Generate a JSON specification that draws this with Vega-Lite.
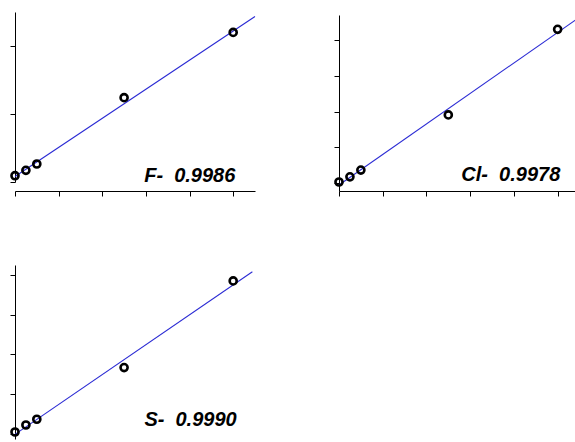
{
  "$schema": "https://vega.github.io/schema/vega-lite/v6.json",
  "background": "white",
  "padding": {"left": 6, "top": 12, "right": 0, "bottom": 0},
  "datasets": {
    "points": [
      {"ion": "F-", "x": 0, "y": 0.185},
      {"ion": "F-", "x": 0.25, "y": 0.344},
      {"ion": "F-", "x": 0.5, "y": 0.53},
      {"ion": "F-", "x": 2.5, "y": 2.48},
      {"ion": "F-", "x": 5, "y": 4.40},
      {"ion": "Cl-", "x": 0, "y": 0.036},
      {"ion": "Cl-", "x": 0.25, "y": 0.18},
      {"ion": "Cl-", "x": 0.5, "y": 0.37},
      {"ion": "Cl-", "x": 2.5, "y": 1.91},
      {"ion": "Cl-", "x": 5, "y": 4.30},
      {"ion": "S-", "x": 0, "y": 0.05},
      {"ion": "S-", "x": 0.25, "y": 0.226},
      {"ion": "S-", "x": 0.5, "y": 0.37},
      {"ion": "S-", "x": 2.5, "y": 1.67},
      {"ion": "S-", "x": 5, "y": 3.85}
    ],
    "fits": [
      {"ion": "F-", "x": 0, "y": 0.16},
      {"ion": "F-", "x": 5.5, "y": 4.87},
      {"ion": "Cl-", "x": 0, "y": -0.047},
      {"ion": "Cl-", "x": 5.42, "y": 4.57},
      {"ion": "S-", "x": 0, "y": -0.01},
      {"ion": "S-", "x": 5.44, "y": 4.08}
    ],
    "labels": [
      {"ion": "F-", "label": "F-\u00a0\u00a00.9986"},
      {"ion": "Cl-", "label": "Cl-\u00a0\u00a00.9978"},
      {"ion": "S-", "label": "S-\u00a0\u00a00.9990"}
    ]
  },
  "spacing": 68,
  "vconcat": [
    {
      "spacing": 72,
      "hconcat": [
        {
          "width": 240,
          "height": 179,
          "layer": [
            {
              "data": {"name": "fits"},
              "transform": [{"filter": "datum.ion === 'F-'"}],
              "mark": {"type": "line", "color": "#2b2bd4", "strokeWidth": 1.1},
              "encoding": {
                "x": {"field": "x", "type": "quantitative", "scale": {"domain": [0, 5.5], "nice": false, "zero": false}, "axis": {"values": [0, 1, 2, 3, 4, 5]}},
                "y": {"field": "y", "type": "quantitative", "scale": {"domain": [0, 5], "range": [170, 0], "nice": false, "zero": false}, "axis": {"values": [0, 1, 2, 3, 4, 5]}}
              }
            },
            {
              "data": {"name": "points"},
              "transform": [{"filter": "datum.ion === 'F-'"}],
              "mark": {"type": "point", "shape": "circle", "filled": false, "color": "#000", "size": 50, "strokeWidth": 2.6, "opacity": 1},
              "encoding": {
                "x": {"field": "x", "type": "quantitative"},
                "y": {"field": "y", "type": "quantitative"}
              }
            },
            {
              "data": {"name": "labels"},
              "transform": [{"filter": "datum.ion === 'F-'"}],
              "mark": {"type": "text", "align": "right", "baseline": "alphabetic", "font": "Liberation Sans", "fontSize": 20, "fontStyle": "italic", "fontWeight": "bold", "color": "#000"},
              "encoding": {
                "x": {"datum": 5.05, "type": "quantitative"},
                "y": {"datum": 0.0, "type": "quantitative"},
                "text": {"field": "label", "type": "nominal"}
              }
            }
          ]
        },
        {
          "width": 237,
          "height": 179,
          "layer": [
            {
              "data": {"name": "fits"},
              "transform": [{"filter": "datum.ion === 'Cl-'"}],
              "mark": {"type": "line", "color": "#2b2bd4", "strokeWidth": 1.1},
              "encoding": {
                "x": {"field": "x", "type": "quantitative", "scale": {"domain": [0, 5.42], "nice": false, "zero": false}, "axis": {"values": [0, 1, 2, 3, 4, 5]}},
                "y": {"field": "y", "type": "quantitative", "scale": {"domain": [-0.215, 4.70], "range": [179, 3], "nice": false, "zero": false}, "axis": {"values": [0, 1, 2, 3, 4]}}
              }
            },
            {
              "data": {"name": "points"},
              "transform": [{"filter": "datum.ion === 'Cl-'"}],
              "mark": {"type": "point", "shape": "circle", "filled": false, "color": "#000", "size": 50, "strokeWidth": 2.6, "opacity": 1},
              "encoding": {
                "x": {"field": "x", "type": "quantitative"},
                "y": {"field": "y", "type": "quantitative"}
              }
            },
            {
              "data": {"name": "labels"},
              "transform": [{"filter": "datum.ion === 'Cl-'"}],
              "mark": {"type": "text", "align": "right", "baseline": "alphabetic", "font": "Liberation Sans", "fontSize": 20, "fontStyle": "italic", "fontWeight": "bold", "color": "#000"},
              "encoding": {
                "x": {"datum": 5.06, "type": "quantitative"},
                "y": {"datum": 0.064, "type": "quantitative"},
                "text": {"field": "label", "type": "nominal"}
              }
            }
          ]
        }
      ]
    },
    {
      "width": 240,
      "height": 179,
      "layer": [
        {
          "data": {"name": "fits"},
          "transform": [{"filter": "datum.ion === 'S-'"}],
          "mark": {"type": "line", "color": "#2b2bd4", "strokeWidth": 1.1},
          "encoding": {
            "x": {"field": "x", "type": "quantitative", "scale": {"domain": [0, 5.5], "nice": false, "zero": false}, "axis": {"values": [0, 1, 2, 3, 4, 5]}},
            "y": {"field": "y", "type": "quantitative", "scale": {"domain": [-0.126, 4.25], "range": [174, 0], "nice": false, "zero": false}, "axis": {"values": [0, 1, 2, 3, 4]}}
          }
        },
        {
          "data": {"name": "points"},
          "transform": [{"filter": "datum.ion === 'S-'"}],
          "mark": {"type": "point", "shape": "circle", "filled": false, "color": "#000", "size": 50, "strokeWidth": 2.6, "opacity": 1},
          "encoding": {
            "x": {"field": "x", "type": "quantitative"},
            "y": {"field": "y", "type": "quantitative"}
          }
        },
        {
          "data": {"name": "labels"},
          "transform": [{"filter": "datum.ion === 'S-'"}],
          "mark": {"type": "text", "align": "right", "baseline": "alphabetic", "font": "Liberation Sans", "fontSize": 20, "fontStyle": "italic", "fontWeight": "bold", "color": "#000"},
          "encoding": {
            "x": {"datum": 5.08, "type": "quantitative"},
            "y": {"datum": 0.2, "type": "quantitative"},
            "text": {"field": "label", "type": "nominal"}
          }
        }
      ]
    }
  ],
  "config": {
    "view": {"stroke": null},
    "axis": {
      "labels": false,
      "title": null,
      "grid": false,
      "ticks": true,
      "tickSize": 5,
      "tickColor": "#000",
      "tickWidth": 1,
      "domainColor": "#000",
      "domainWidth": 1
    }
  }
}
